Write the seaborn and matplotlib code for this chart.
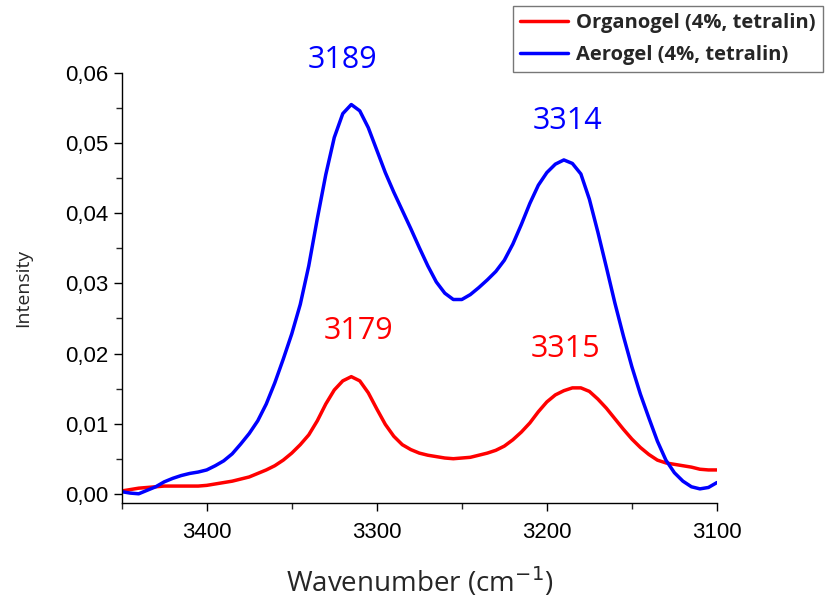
import numpy as np
import pandas as pd
import matplotlib
matplotlib.use("Agg")
import matplotlib.pyplot as plt
from matplotlib.ticker import MultipleLocator, FuncFormatter
from matplotlib.lines import Line2D
import seaborn as sns

wavenumber = [3450, 3445, 3440, 3435, 3430, 3425, 3420, 3415, 3410, 3405,
              3400, 3395, 3390, 3385, 3380, 3375, 3370, 3365, 3360, 3355,
              3350, 3345, 3340, 3335, 3330, 3325, 3320, 3315, 3310, 3305,
              3300, 3295, 3290, 3285, 3280, 3275, 3270, 3265, 3260, 3255,
              3250, 3245, 3240, 3235, 3230, 3225, 3220, 3215, 3210, 3205,
              3200, 3195, 3190, 3185, 3180, 3175, 3170, 3165, 3160, 3155,
              3150, 3145, 3140, 3135, 3130, 3125, 3120, 3115, 3110, 3105,
              3100]

aerogel = [0.0003, 0.0001, 0.0000, 0.0005, 0.0010, 0.0017, 0.0022, 0.0026, 0.0029, 0.0031,
           0.0034, 0.0040, 0.0047, 0.0057, 0.0071, 0.0086, 0.0104, 0.0128, 0.0158, 0.0192,
           0.0228, 0.0270, 0.0325, 0.0392, 0.0455, 0.0508, 0.0542, 0.0555, 0.0546, 0.0522,
           0.0490, 0.0458, 0.0430, 0.0404, 0.0378, 0.0351, 0.0325, 0.0302, 0.0286, 0.0277,
           0.0277, 0.0284, 0.0294, 0.0305, 0.0317, 0.0333, 0.0356, 0.0384, 0.0414, 0.0440,
           0.0458, 0.0470, 0.0476, 0.0471, 0.0456, 0.0420, 0.0373, 0.0323, 0.0272, 0.0225,
           0.0181, 0.0142, 0.0108, 0.0075, 0.0048, 0.0030, 0.0018, 0.0010, 0.0007, 0.0009,
           0.0016]

organogel = [0.0004, 0.0006, 0.0008, 0.0009, 0.0010, 0.0011, 0.0011, 0.0011, 0.0011, 0.0011,
             0.0012, 0.0014, 0.0016, 0.0018, 0.0021, 0.0024, 0.0029, 0.0034, 0.0040, 0.0048,
             0.0058, 0.0070, 0.0084, 0.0104, 0.0128, 0.0148, 0.0161, 0.0167, 0.0161, 0.0144,
             0.0121, 0.0099, 0.0082, 0.0070, 0.0063, 0.0058, 0.0055, 0.0053, 0.0051, 0.0050,
             0.0051, 0.0052, 0.0055, 0.0058, 0.0062, 0.0068, 0.0077, 0.0088, 0.0101, 0.0117,
             0.0131, 0.0141, 0.0147, 0.0151, 0.0151, 0.0146, 0.0135, 0.0122, 0.0107, 0.0092,
             0.0078, 0.0066, 0.0056, 0.0048, 0.0044, 0.0042, 0.0040, 0.0038, 0.0035, 0.0034,
             0.0034]

series_names = ["Organogel (4%, tetralin)", "Aerogel (4%, tetralin)"]
series_colors = ["#ff0000", "#0000ff"]

peak_labels = ["3189", "3314", "3179", "3315"]
peak_label_x = [3320, 3188, 3311, 3189]
peak_label_y = [0.0618, 0.0532, 0.0232, 0.0207]
peak_label_colors = ["#0000ff", "#0000ff", "#ff0000", "#ff0000"]

x_ticks = [3400, 3300, 3200, 3100]
y_ticks = [0.00, 0.01, 0.02, 0.03, 0.04, 0.05, 0.06]

df = pd.DataFrame({
    "Wavenumber": wavenumber * 2,
    "Intensity": organogel + aerogel,
    "Sample": [series_names[0]] * len(wavenumber) + [series_names[1]] * len(wavenumber),
})

sns.set_style("ticks")
plt.rcParams["font.family"] = ["Liberation Sans", "DejaVu Sans"]

fig = plt.figure(figsize=(8.25, 6.03), dpi=100)
ax = fig.add_axes([0.1475, 0.166, 0.7215, 0.713])

sns.lineplot(data=df, x="Wavenumber", y="Intensity", hue="Sample",
             palette=dict(zip(series_names, series_colors)), sort=False,
             linewidth=2.5, ax=ax, legend=False, estimator=None)

ax.set_xlim(3450, 3100)
ax.set_ylim(-0.0013, 0.06)
ax.set_xticks(x_ticks)
ax.set_yticks(y_ticks)
ax.xaxis.set_minor_locator(MultipleLocator(50))
ax.yaxis.set_minor_locator(MultipleLocator(0.005))
ax.yaxis.set_major_formatter(FuncFormatter(lambda v, p: f"{v:.2f}".replace(".", ",")))
ax.tick_params(axis="both", which="major", direction="out", length=5.5, width=1.0,
               labelsize=16, colors="black")
ax.tick_params(axis="x", which="major", pad=8)
ax.tick_params(axis="y", which="major", pad=4)
ax.tick_params(axis="both", which="minor", direction="out", length=4, width=1.0)
for side in ["top", "right"]:
    ax.spines[side].set_visible(False)
for side in ["left", "bottom"]:
    ax.spines[side].set_linewidth(1.0)
    ax.spines[side].set_color("black")

ax.set_xlabel("Wavenumber (cm$^{-1}$)", fontsize=20, family=["Open Sans", "DejaVu Sans"], labelpad=16)
ax.set_ylabel("Intensity", fontsize=14, family=["Open Sans", "DejaVu Sans"], labelpad=24)

for t, xx, yy, c in zip(peak_labels, peak_label_x, peak_label_y, peak_label_colors):
    ax.text(xx, yy, t, color=c, fontsize=22, ha="center", va="center",
            family=["Open Sans", "DejaVu Sans"], clip_on=False)

handles = [Line2D([], [], color=c, linewidth=2.5) for c in series_colors]
leg = fig.legend(handles, series_names, loc="upper right",
                 bbox_to_anchor=(823 / 825, 1 - 6 / 603), bbox_transform=fig.transFigure,
                 frameon=True, fancybox=False, handlelength=2.4, handletextpad=0.4,
                 borderpad=0.35, labelspacing=0.6, borderaxespad=0,
                 prop={"family": "Open Sans", "weight": "bold", "size": 14.5})
leg.get_frame().set_edgecolor("#555555")
leg.get_frame().set_linewidth(1.0)

fig.savefig("out.png", dpi=100)
